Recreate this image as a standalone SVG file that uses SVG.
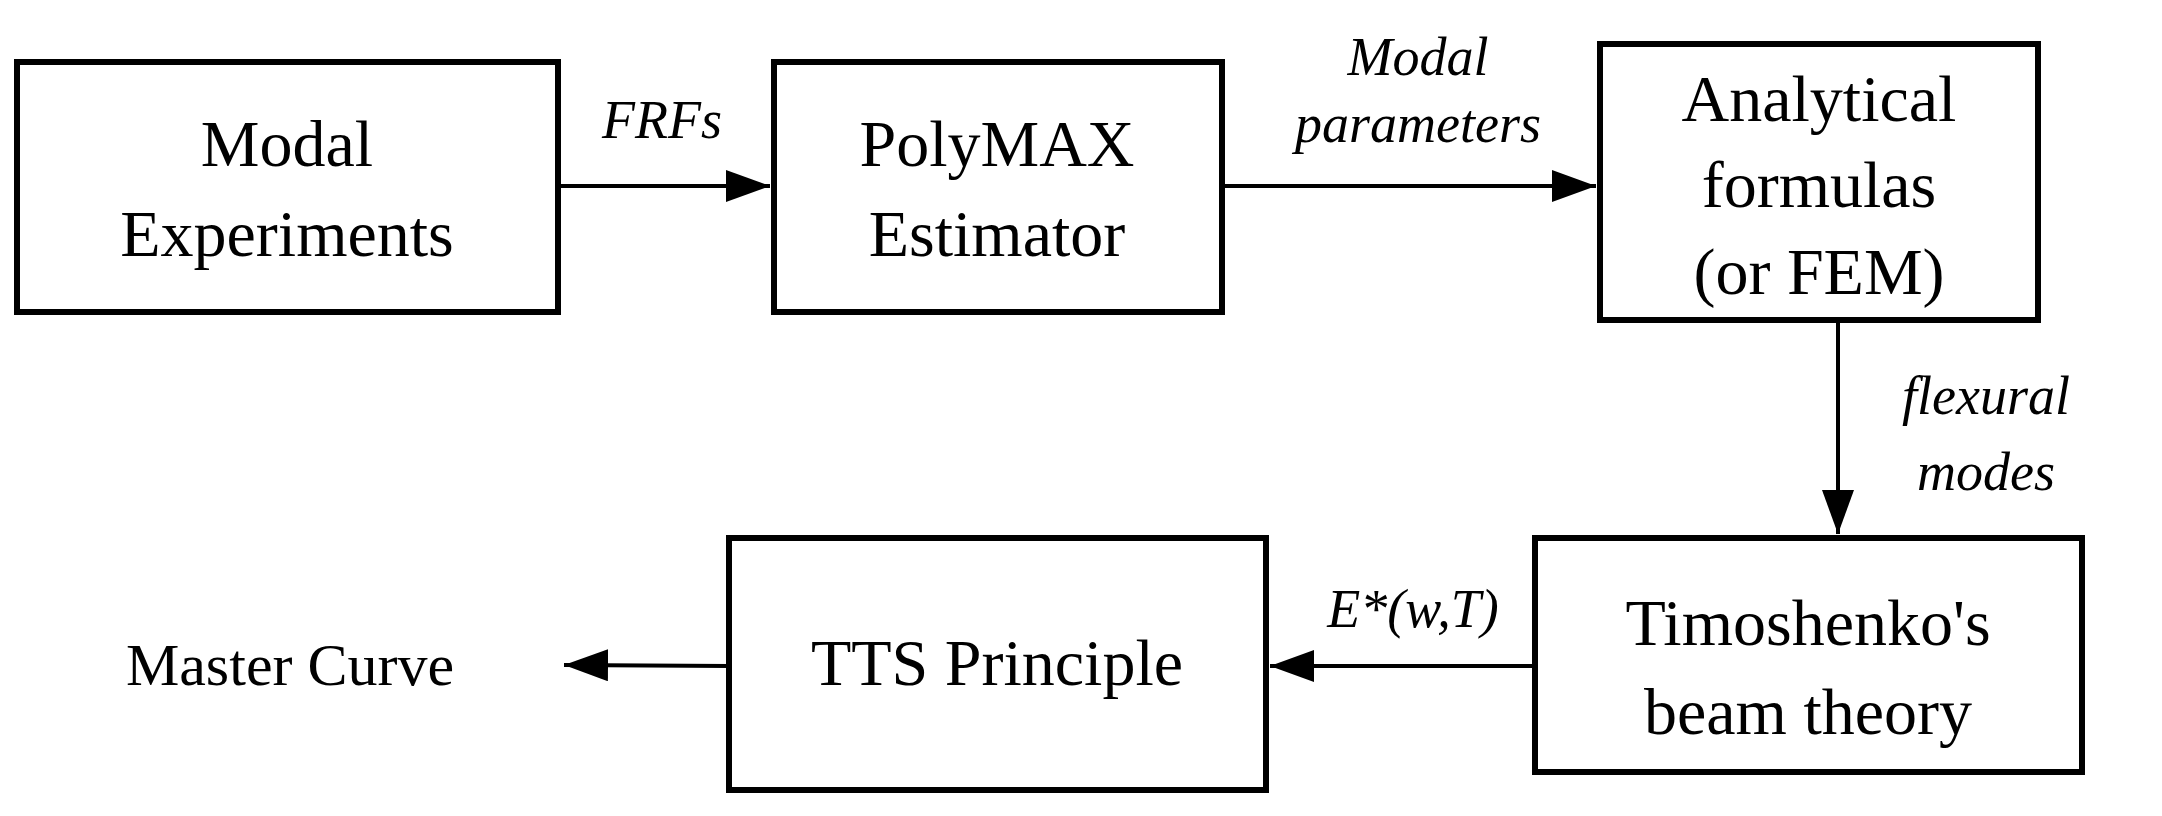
<svg xmlns="http://www.w3.org/2000/svg" width="2162" height="816" viewBox="0 0 2162 816">
<style>
.b{fill:#fff;stroke:#000;stroke-width:6}
.t{font-family:"Liberation Serif",serif;font-size:66px;text-anchor:middle;fill:#000}
.l{font-family:"Liberation Serif",serif;font-style:italic;font-size:54px;text-anchor:middle;fill:#000}
.c{stroke:#000;stroke-width:4;fill:none}
</style>
<defs><marker id="a" viewBox="0 0 10 10" refX="10" refY="5" markerWidth="10" markerHeight="13" markerUnits="userSpaceOnUse" orient="auto" style="overflow:visible"><path d="M0,0L10,5L0,10z" transform="scale(4.4,3.2) translate(0,-2)" fill="#000"/></marker></defs>
<g id="connectors">
<line class="c" x1="558" y1="186" x2="770" y2="186" marker-end="url(#ah)"/>
<line class="c" x1="1222" y1="186" x2="1596" y2="186" marker-end="url(#ah)"/>
<line class="c" x1="1838" y1="320" x2="1838" y2="534" marker-end="url(#ah)"/>
<line class="c" x1="1535" y1="666" x2="1270" y2="666" marker-end="url(#ah)"/>
<line class="c" x1="729" y1="666" x2="564" y2="665" marker-end="url(#ah)"/>
<text class="l" x="662" y="138">FRFs</text>
<text class="l" x="1418" y="75">Modal</text>
<text class="l" x="1418" y="142">parameters</text>
<text class="l" x="1986" y="414">flexural</text>
<text class="l" x="1986" y="490">modes</text>
<text class="l" x="1413" y="627">E*(w,T)</text>
</g>
<defs><marker id="ah" viewBox="0 0 44 32" refX="44" refY="16" markerWidth="44" markerHeight="32" markerUnits="userSpaceOnUse" orient="auto"><path d="M0,0L44,16L0,32z" fill="#000"/></marker></defs>
<g id="n1"><rect class="b" x="17" y="62" width="541" height="250"/><text class="t" x="287" y="166">Modal</text><text class="t" x="287" y="256">Experiments</text></g>
<g id="n2"><rect class="b" x="774" y="62" width="448" height="250"/><text class="t" x="997" y="166">PolyMAX</text><text class="t" x="997" y="256">Estimator</text></g>
<g id="n3"><rect class="b" x="1600" y="44" width="438" height="276"/><text class="t" x="1819" y="121">Analytical</text><text class="t" x="1819" y="207">formulas</text><text class="t" x="1819" y="294">(or FEM)</text></g>
<g id="n4"><rect class="b" x="1535" y="538" width="547" height="234"/><text class="t" x="1808" y="645">Timoshenko's</text><text class="t" x="1808" y="734">beam theory</text></g>
<g id="n5"><rect class="b" x="729" y="538" width="537" height="252"/><text class="t" x="997" y="685">TTS Principle</text></g>
<g id="n6"><text class="t" x="290" y="685" style="font-size:60px">Master Curve</text></g>
</svg>
